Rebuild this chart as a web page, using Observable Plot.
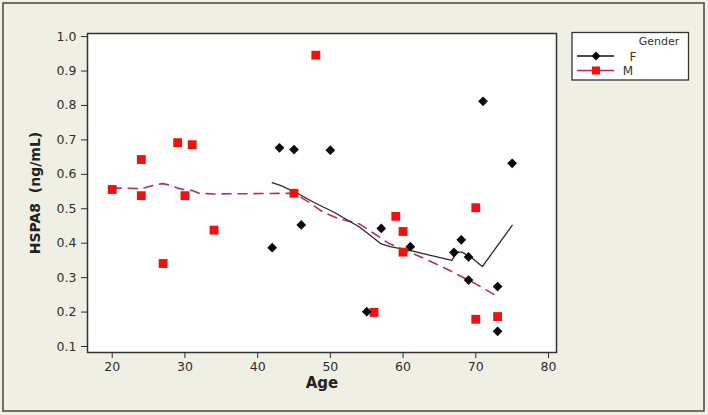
<!DOCTYPE html>
<html>
<head>
<meta charset="utf-8">
<script src="https://cdn.jsdelivr.net/npm/d3@7"></script>
<script src="https://cdn.jsdelivr.net/npm/@observablehq/plot@0.6"></script>
<style>
  html, body { margin: 0; padding: 0; background: #f0efe4; }
  #chart { width: 708px; height: 415px; }
</style>
</head>
<body>
<div id="chart"></div>
<script>
// Female (F) observations
const ageF  = [42, 43, 45, 46, 50, 55, 57, 61, 67, 68, 69, 69, 71, 73, 73, 75];
const hspaF = [0.387, 0.677, 0.672, 0.453, 0.670, 0.201, 0.443, 0.390, 0.373, 0.410, 0.360, 0.293, 0.812, 0.274, 0.144, 0.632];
// Male (M) observations
const ageM  = [20, 24, 24, 27, 29, 30, 31, 34, 45, 48, 56, 59, 60, 60, 70, 70, 73];
const hspaM = [0.556, 0.643, 0.538, 0.341, 0.692, 0.538, 0.686, 0.438, 0.545, 0.946, 0.199, 0.478, 0.434, 0.374, 0.503, 0.179, 0.187];
// Smoothed fit lines
const fitAgeF = [42, 43.2, 45.2, 47.7, 50.5, 54, 57, 58.2, 60.9, 66.7, 67.4, 68.1, 69.3, 70.9, 75];
const fitF    = [0.576, 0.567, 0.548, 0.519, 0.490, 0.447, 0.398, 0.390, 0.379, 0.350, 0.374, 0.374, 0.360, 0.332, 0.452];
const fitAgeM = [20, 22, 24, 26, 27, 28, 29, 30, 31, 32, 34, 45, 47, 49, 51, 54, 58, 63, 66, 70, 73];
const fitM    = [0.560, 0.560, 0.558, 0.570, 0.573, 0.568, 0.560, 0.555, 0.553, 0.545, 0.543, 0.545, 0.520, 0.490, 0.472, 0.456, 0.400, 0.355, 0.325, 0.282, 0.245];
// Axis ticks
const xTicks = [20, 30, 40, 50, 60, 70, 80];
const yTicks = [0.1, 0.2, 0.3, 0.4, 0.5, 0.6, 0.7, 0.8, 0.9, 1.0];
// Legend
const groups = ["F", "M"];
const legendTitle = "Gender";

const colF = "#0a0a0a", lineF = "#2a2a2a";
const colM = "#ee1111", lineM = "#b0306a";

const iF = d3.range(ageF.length), iM = d3.range(ageM.length);

const plot = Plot.plot({
  width: 708,
  height: 415,
  marginLeft: 87,
  marginRight: 152,
  marginTop: 33,
  marginBottom: 63,
  style: { background: "#f0efe4", fontFamily: "DejaVu Sans, sans-serif", fontSize: "12.5px", color: "#2e2e2e" },
  x: { domain: [16.6, 81.1], ticks: xTicks, tickSize: 6, tickPadding: 4, tickFormat: d3.format("d"), label: null },
  y: { domain: [0.0826, 1.009], ticks: yTicks, tickSize: 6, tickPadding: 5, tickFormat: d3.format(".1f"), label: null },
  marks: [
    Plot.frame({ fill: "white", stroke: "none" }),
    Plot.line(fitAgeM.map((a, i) => i), { x: i => fitAgeM[i], y: i => fitM[i], stroke: lineM, strokeWidth: 1.6, strokeDasharray: "9,7" }),
    Plot.line(fitAgeF.map((a, i) => i), { x: i => fitAgeF[i], y: i => fitF[i], stroke: lineF, strokeWidth: 1.3 }),
    Plot.dot(iM, { x: i => ageM[i], y: i => hspaM[i], symbol: "square", r: 5, fill: colM, stroke: "none" }),
    Plot.dot(iF, { x: i => ageF[i], y: i => hspaF[i], symbol: "diamond2", r: 4.4, fill: colF, stroke: "none" }),
    Plot.frame({ stroke: "#333", strokeWidth: 1.5 }),
    Plot.text(["Age"], { frameAnchor: "bottom", text: d => d, dy: 35, fontWeight: "bold", fontSize: 15, fill: "#222" }),
    Plot.text(["HSPA8  (ng/mL)"], { frameAnchor: "left", text: d => d, textAnchor: "middle", rotate: -90, dx: -52, fontWeight: "bold", fontSize: 14, fill: "#222" })
  ]
});

document.getElementById("chart").appendChild(plot);

const svg = d3.select(plot);

// outer border and legend
svg.append("rect").attr("x", 3).attr("y", 3).attr("width", 701).attr("height", 408)
  .attr("fill", "none").attr("stroke", "#444").attr("stroke-width", 1.5);

const lg = svg.append("g").attr("font-family", "DejaVu Sans, sans-serif");
lg.append("rect").attr("x", 572).attr("y", 32.5).attr("width", 116.5).attr("height", 47.5)
  .attr("fill", "white").attr("stroke", "#333").attr("stroke-width", 1.3);
lg.append("text").attr("x", 659).attr("y", 45).attr("text-anchor", "middle")
  .attr("font-size", 11).attr("fill", "#333").text(legendTitle);
const lgY = [56, 70.5];
const lgMk = [colF, colM];
groups.forEach((g, k) => {
  const y = lgY[k];
  lg.append("line").attr("x1", 577).attr("x2", 614).attr("y1", y).attr("y2", y)
    .attr("stroke", k === 0 ? "#111" : "#d0204a").attr("stroke-width", 1.4);
  if (k === 0) {
    lg.append("path").attr("d", d3.symbol(d3.symbolDiamond2, Math.PI * 4 * 4)()).attr("transform", `translate(596,${y})`).attr("fill", lgMk[k]);
  } else {
    lg.append("rect").attr("x", 592).attr("y", y - 4).attr("width", 8).attr("height", 8).attr("fill", lgMk[k]);
  }
  lg.append("text").attr("x", k === 0 ? 633 : 628).attr("y", y + 4.5).attr("font-size", 12)
    .attr("fill", "#333").text(g);
});
</script>
</body>
</html>
